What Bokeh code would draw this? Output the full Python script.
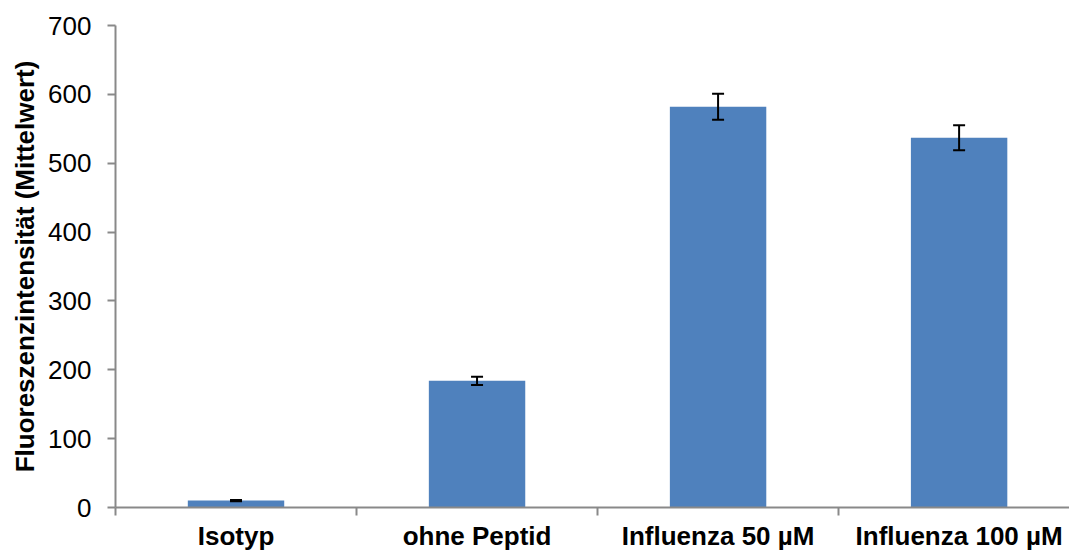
import numpy as np
from bokeh.plotting import figure
from bokeh.models import (ColumnDataSource, Range1d, FixedTicker, Whisker, TeeHead)
from bokeh.embed import file_html
from bokeh.resources import INLINE

# Mean fluorescence intensity per condition, with error (±)
categories = ["Isotyp", "ohne Peptid", "Influenza 50 µM", "Influenza 100 µM"]
means = [10, 184, 582, 537]
errors = [1, 6, 19, 18]
y_ticks = [0, 100, 200, 300, 400, 500, 600, 700]

FONT = "Liberation Sans"
BAR = "#4F81BD"
AXIS = "#898989"

pos = np.arange(len(categories)) + 0.5
src = ColumnDataSource(dict(
    x=pos,
    top=means,
    upper=[m + e for m, e in zip(means, errors)],
    lower=[m - e for m, e in zip(means, errors)],
))

p = figure(width=1069, height=553, output_backend="svg", toolbar_location=None,
           x_range=Range1d(0, 3.958), y_range=Range1d(0, 700),
           min_border_left=115, min_border_right=0, min_border_top=25,
           min_border_bottom=44)
p.outline_line_color = None
p.xgrid.grid_line_color = None
p.ygrid.grid_line_color = None
p.background_fill_color = "white"
p.border_fill_color = "white"

p.vbar(x="x", top="top", width=0.4, bottom=0, source=src,
       fill_color=BAR, line_color=None)

whisk = Whisker(source=src, base="x", upper="upper", lower="lower",
                line_color="black", line_width=2, level="overlay",
                upper_head=TeeHead(size=12, line_width=2, line_color="black"),
                lower_head=TeeHead(size=12, line_width=2, line_color="black"))
p.add_layout(whisk)

# x axis: labels centred under bars, tick marks between categories
xa = p.xaxis[0]
xa.ticker = FixedTicker(ticks=list(pos), minor_ticks=list(range(len(categories))))
xa.major_label_overrides = {float(x): c for x, c in zip(pos, categories)}
xa.major_tick_line_color = None
xa.major_tick_out = 0
xa.major_tick_in = 0
xa.minor_tick_out = 8
xa.minor_tick_in = 0
xa.minor_tick_line_color = AXIS
xa.minor_tick_line_width = 2
xa.axis_line_color = AXIS
xa.axis_line_width = 2
xa.major_label_text_font = FONT
xa.major_label_text_font_style = "bold"
xa.major_label_text_font_size = "26px"
xa.major_label_text_color = "black"
xa.major_label_standoff = 5

ya = p.yaxis[0]
ya.ticker = FixedTicker(ticks=y_ticks)
ya.minor_tick_line_color = None
ya.major_tick_out = 8
ya.major_tick_in = 0
ya.major_tick_line_color = AXIS
ya.major_tick_line_width = 2
ya.axis_line_color = AXIS
ya.axis_line_width = 2
ya.major_label_text_font = FONT
ya.major_label_text_font_size = "26px"
ya.major_label_text_color = "black"
ya.major_label_standoff = 16
ya.axis_label = "Fluoreszenzintensität (Mittelwert)"
ya.axis_label_text_font = FONT
ya.axis_label_text_font_style = "bold"
ya.axis_label_text_font_size = "26px"
ya.axis_label_text_color = "black"
ya.axis_label_standoff = 5

open("out.html", "w").write(file_html(p, INLINE))
